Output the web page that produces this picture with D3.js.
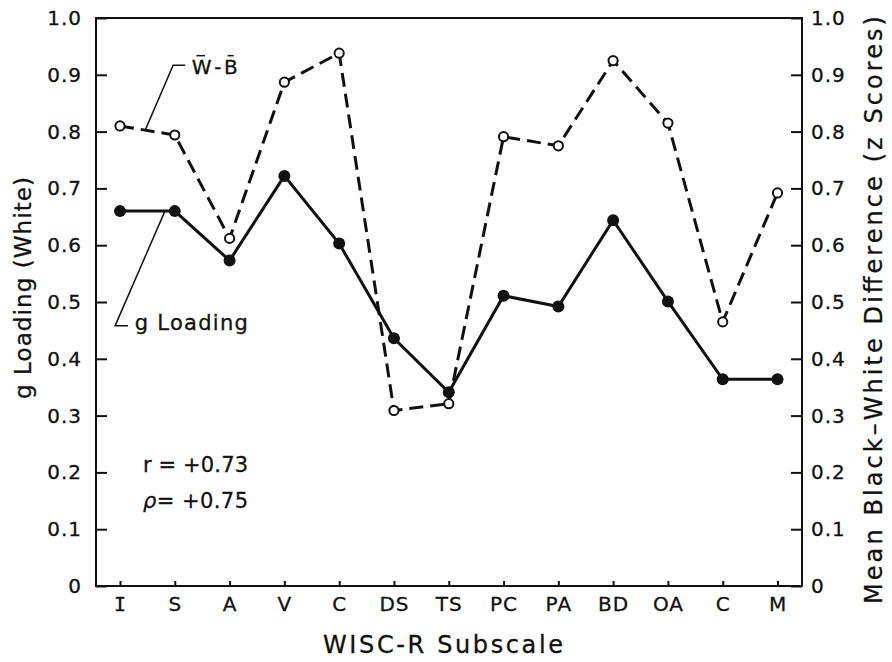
<!DOCTYPE html>
<html>
<head>
<meta charset="utf-8">
<script src="https://cdn.jsdelivr.net/npm/d3@7"></script>
<style>
  html, body { margin: 0; padding: 0; background: #fff; }
  svg { display: block; }
  text { font-family: "DejaVu Sans", sans-serif; fill: #111; stroke: #111; stroke-width: 0.3px; }
</style>
</head>
<body>
<svg id="chart" width="892" height="662"></svg>
<script>
// WISC-R subscales
const subscales = ["I", "S", "A", "V", "C", "DS", "TS", "PC", "PA", "BD", "OA", "C", "M"];
// g loading for the white sample
const gLoading = [0.660, 0.660, 0.573, 0.722, 0.603, 0.436, 0.341, 0.511, 0.492, 0.644, 0.501, 0.364, 0.364];
// mean white - black difference in z scores
const wbDiff = [0.810, 0.794, 0.612, 0.887, 0.938, 0.309, 0.321, 0.791, 0.775, 0.925, 0.815, 0.465, 0.692];
// y axis ticks (shared by both vertical axes)
const yTicks = [0, 0.1, 0.2, 0.3, 0.4, 0.5, 0.6, 0.7, 0.8, 0.9, 1.0];

const svg = d3.select("#chart");
const plotL = 96, plotR = 802, plotT = 18, plotB = 586;
const ink = "#111";

const idx = d3.range(subscales.length);
const x = d3.scalePoint().domain(idx).range([120, 777.5]);
const xf = d3.scaleLinear().domain([0, subscales.length - 1]).range([x(0), x(subscales.length - 1)]);
const y = d3.scaleLinear().domain([0, 1]).range([plotB, plotT]);

const fmt = d => d === 0 ? "0" : d3.format(".1f")(d);

// frame
svg.append("rect")
  .attr("x", plotL).attr("y", plotT)
  .attr("width", plotR - plotL).attr("height", plotB - plotT)
  .attr("fill", "none").attr("stroke", ink).attr("stroke-width", 2);

// left axis
const gl = svg.append("g").attr("transform", `translate(${plotL},0)`)
  .call(d3.axisLeft(y).tickValues(yTicks).tickFormat(fmt).tickSize(-11).tickSizeOuter(0).tickPadding(14));
// right axis
const gr = svg.append("g").attr("transform", `translate(${plotR},0)`)
  .call(d3.axisRight(y).tickValues(yTicks).tickFormat(fmt).tickSize(-11).tickSizeOuter(0).tickPadding(9));
// bottom axis
const gb = svg.append("g").attr("transform", `translate(0,${plotB})`)
  .call(d3.axisBottom(x).tickFormat(i => subscales[i]).tickSize(-5).tickSizeOuter(0).tickPadding(11));

[gl, gr, gb].forEach(g => {
  g.select(".domain").remove();
  g.selectAll(".tick line").attr("stroke", ink).attr("stroke-width", 2);
  g.selectAll(".tick text")
    .style("font-family", "'DejaVu Sans', sans-serif")
    .style("font-size", "20px").style("letter-spacing", "1px")
    .attr("fill", ink).attr("stroke", ink).attr("stroke-width", 0.3);
});
// serifed capital I for the first subscale
gb.selectAll(".tick text").filter(d => d === 0).style("font-family", "'DejaVu Sans Mono', monospace");

// axis titles
svg.append("text")
  .attr("transform", `translate(31,288) rotate(-90)`)
  .attr("text-anchor", "middle")
  .attr("textLength", 222).attr("lengthAdjust", "spacing")
  .style("font-size", "23px")
  .text("g Loading  (White)");
svg.append("text")
  .attr("transform", `translate(882,310) rotate(-90)`)
  .attr("text-anchor", "middle")
  .attr("textLength", 588).attr("lengthAdjust", "spacing")
  .style("font-size", "24px")
  .text("Mean  Black–White Difference  (z  Scores)");
svg.append("text")
  .attr("x", 443).attr("y", 653)
  .attr("text-anchor", "middle")
  .attr("textLength", 240).attr("lengthAdjust", "spacing")
  .style("font-size", "24px")
  .text("WISC-R  Subscale");

// series lines
const line = d3.line().x((d, i) => x(i)).y(d => y(d));
svg.append("path").datum(wbDiff)
  .attr("d", line).attr("fill", "none").attr("stroke", ink)
  .attr("stroke-width", 3).attr("stroke-dasharray", "14,7");
svg.append("path").datum(gLoading)
  .attr("d", line).attr("fill", "none").attr("stroke", ink)
  .attr("stroke-width", 3);

// markers
svg.append("g").selectAll("circle").data(gLoading).join("circle")
  .attr("cx", (d, i) => x(i)).attr("cy", d => y(d)).attr("r", 6).attr("fill", ink);
svg.append("g").selectAll("circle").data(wbDiff).join("circle")
  .attr("cx", (d, i) => x(i)).attr("cy", d => y(d)).attr("r", 4.6)
  .attr("fill", "#fff").attr("stroke", ink).attr("stroke-width", 2);

// point on a series segment at fractional index t
const along = (series, t) => {
  const i = Math.floor(t), f = t - i;
  return [xf(t), y(series[i] + (series[i + 1] - series[i]) * f)];
};

// label for the W-B series
const wbAnchor = along(wbDiff, 0.46);
svg.append("path")
  .attr("d", d3.line()([wbAnchor, [xf(0.97), y(0.917)], [xf(1.19), y(0.917)]]))
  .attr("fill", "none").attr("stroke", ink).attr("stroke-width", 1.5);
const wbY = y(0.902);
const wbLabel = svg.append("text").attr("x", xf(1.31)).attr("y", wbY)
  .attr("textLength", 46).attr("lengthAdjust", "spacing")
  .style("font-size", "20px")
  .text("W-B");
// overbars on W and B
const node = wbLabel.node();
[0, 2].forEach(c => {
  const s = node.getStartPositionOfChar(c).x;
  const w = node.getSubStringLength(c, 1);
  svg.append("line").attr("x1", s + w * 0.25).attr("x2", s + w * 0.7)
    .attr("y1", wbY - 18).attr("y2", wbY - 18)
    .attr("stroke", ink).attr("stroke-width", 1.5);
});

// label for the g loading series
const gAnchor = along(gLoading, 0.82);
svg.append("path")
  .attr("d", d3.line()([gAnchor, [xf(-0.09), y(0.458)], [xf(0.146), y(0.458)]]))
  .attr("fill", "none").attr("stroke", ink).attr("stroke-width", 1.5);
svg.append("text").attr("x", xf(0.27)).attr("y", y(0.451))
  .attr("textLength", 113).attr("lengthAdjust", "spacing")
  .style("font-size", "21px")
  .text("g Loading");

// correlation notes
svg.append("text").attr("x", xf(0.42)).attr("y", y(0.2))
  .attr("textLength", 105).attr("lengthAdjust", "spacing")
  .style("font-size", "21px")
  .text("r = +0.73");
const rho = svg.append("text").attr("x", xf(0.42)).attr("y", y(0.137))
  .attr("textLength", 105).attr("lengthAdjust", "spacing")
  .style("font-size", "21px");
rho.append("tspan").style("font-style", "italic").text("ρ");
rho.append("tspan").text("= +0.75");
</script>
</body>
</html>
